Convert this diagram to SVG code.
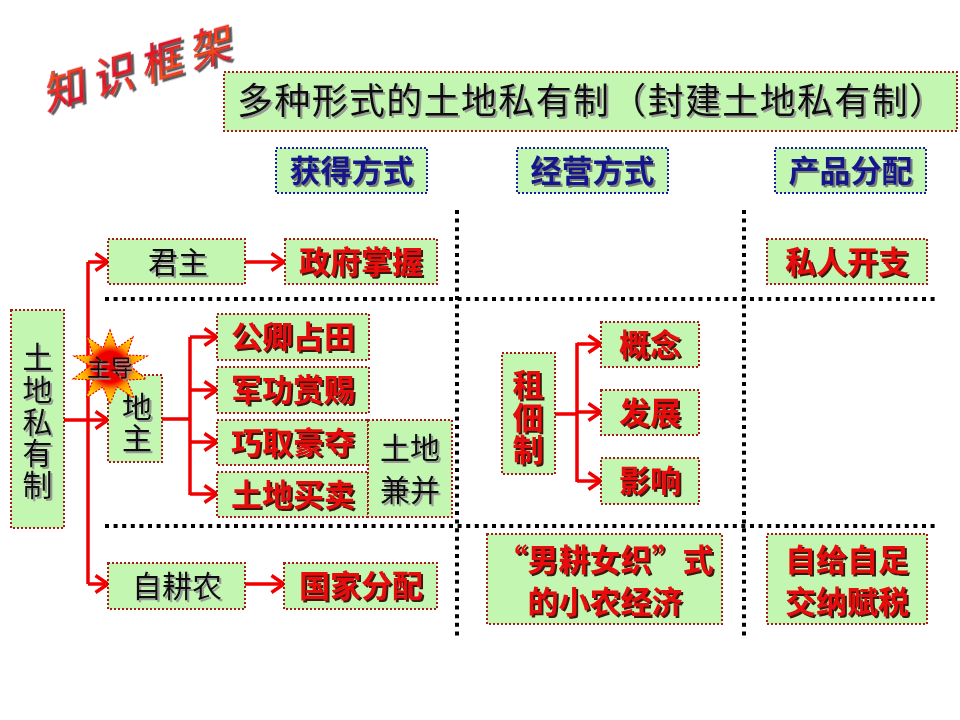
<svg xmlns="http://www.w3.org/2000/svg" width="960" height="720" viewBox="0 0 960 720">
<defs>
<style>
.box{fill:#c2f6b1;stroke:#a81818;stroke-width:2;stroke-dasharray:2 2}
.hbox{fill:#c2f6b1;stroke:#1a1aa8;stroke-width:2;stroke-dasharray:2 2}
.sep{stroke:#000;stroke-width:4;stroke-dasharray:4 4.6;fill:none}
.con{stroke:#f00000;stroke-width:3.5;fill:none}
.arr{marker-end:url(#ah)}
text{font-family:"Noto Sans CJK SC","Noto Sans",sans-serif;text-anchor:middle}
.red{fill:#e80c0c;font-weight:bold;font-size:31px;filter:url(#shR)}
.blk{fill:#111;font-size:30px;filter:url(#shK)}
.blu{fill:#14148c;font-weight:bold;font-size:31px;filter:url(#shB)}
</style>
<filter id="shR" x="-10%" y="-20%" width="130%" height="150%"><feDropShadow dx="2" dy="2" stdDeviation="0.4" flood-color="#2a0000" flood-opacity="0.9"/></filter>
<filter id="shK" x="-10%" y="-20%" width="130%" height="150%"><feDropShadow dx="2" dy="2" stdDeviation="0.6" flood-color="#909090" flood-opacity="0.9"/></filter>
<filter id="shB" x="-10%" y="-20%" width="130%" height="150%"><feDropShadow dx="2" dy="2" stdDeviation="0.5" flood-color="#707070" flood-opacity="0.9"/></filter>
<filter id="shW" x="-10%" y="-20%" width="130%" height="150%"><feDropShadow dx="3" dy="3" stdDeviation="0.6" flood-color="#404040" flood-opacity="0.85"/></filter>
<marker id="ah" markerUnits="userSpaceOnUse" viewBox="0 0 16 20" refX="14" refY="10" markerWidth="16" markerHeight="20" orient="auto">
<path d="M1.5,1.5 L14,10 L1.5,18.5" fill="none" stroke="#f00000" stroke-width="3.5"/>
</marker>
<linearGradient id="wa" x1="0" y1="0" x2="1" y2="1">
<stop offset="0" stop-color="#ff7a10"/>
<stop offset="0.45" stop-color="#e8102a"/>
<stop offset="0.7" stop-color="#ff5a10"/>
<stop offset="1" stop-color="#c00050"/>
</linearGradient>
<radialGradient id="sun" cx="0.5" cy="0.5" r="0.5">
<stop offset="0" stop-color="#e80000"/>
<stop offset="0.42" stop-color="#f00000"/>
<stop offset="0.62" stop-color="#ff9a00"/>
<stop offset="1" stop-color="#ffee00"/>
</radialGradient>
</defs>

<!-- WordArt title -->
<g id="wordart">
<text x="155" y="79" transform="rotate(-16 155 65) skewX(-14)" font-size="42" fill="url(#wa)" stroke="#c00020" stroke-width="0.6" filter="url(#shW)" textLength="194" lengthAdjust="spacing">知识框架</text>
</g>

<!-- separators -->
<g id="separators">
<line class="sep" x1="457" y1="210" x2="457" y2="636"/>
<line class="sep" x1="744" y1="210" x2="744" y2="636"/>
<line class="sep" x1="105" y1="299" x2="935" y2="299"/>
<line class="sep" x1="105" y1="526" x2="935" y2="526"/>
</g>

<!-- connectors -->
<g id="connectors">
<path class="con" d="M88,262 V584"/>
<line class="con arr" x1="88" y1="262" x2="108" y2="262"/>
<line class="con arr" x1="64" y1="420" x2="108" y2="420"/>
<line class="con arr" x1="88" y1="584" x2="108" y2="584"/>
<line class="con arr" x1="245" y1="262" x2="284" y2="262"/>
<line class="con arr" x1="245" y1="584" x2="284" y2="584"/>
<line class="con" x1="162" y1="419" x2="190" y2="419"/>
<path class="con" d="M190,337 V495"/>
<line class="con arr" x1="190" y1="337" x2="217" y2="337"/>
<line class="con arr" x1="190" y1="390" x2="217" y2="390"/>
<line class="con arr" x1="190" y1="442" x2="217" y2="442"/>
<line class="con arr" x1="190" y1="494" x2="217" y2="494"/>
<line class="con" x1="555" y1="414" x2="577" y2="414"/>
<path class="con" d="M577,343 V482"/>
<line class="con arr" x1="577" y1="344" x2="601" y2="344"/>
<line class="con arr" x1="577" y1="412" x2="601" y2="412"/>
<line class="con arr" x1="577" y1="481" x2="601" y2="481"/>
</g>

<g id="title">
<rect class="box" x="224" y="72" width="733" height="59"/>
<text x="591" y="114" font-size="36" fill="#111" filter="url(#shK)" textLength="708" lengthAdjust="spacing">多种形式的土地私有制（封建土地私有制）</text>
</g>

<g id="h1"><rect class="hbox" x="276" y="148" width="151" height="45"/><text class="blu" x="351.5" y="182">获得方式</text></g>
<g id="h2"><rect class="hbox" x="517" y="148" width="151" height="45"/><text class="blu" x="592.5" y="182">经营方式</text></g>
<g id="h3"><rect class="hbox" x="775" y="148" width="151" height="45"/><text class="blu" x="850.5" y="182">产品分配</text></g>

<g id="tudi">
<rect class="box" x="11" y="310" width="53" height="218"/>
<text class="blk"><tspan x="37.5" y="368">土</tspan><tspan x="37.5" y="401">地</tspan><tspan x="37.5" y="433">私</tspan><tspan x="37.5" y="464">有</tspan><tspan x="37.5" y="496">制</tspan></text>
</g>

<g id="junzhu"><rect class="box" x="108" y="239" width="137" height="45"/><text class="blk" x="178" y="273">君主</text></g>
<g id="zhengfu"><rect class="box" x="285" y="239" width="152" height="45"/><text class="red" x="361" y="273">政府掌握</text></g>
<g id="siren"><rect class="box" x="767" y="239" width="160" height="45"/><text class="red" x="847" y="273">私人开支</text></g>

<g id="dizhu">
<rect class="box" x="108" y="375" width="54" height="87"/>
<text class="blk"><tspan x="137" y="418">地</tspan><tspan x="137" y="449">主</tspan></text>
</g>

<g id="zhudao">
<polygon points="110,330 117,348 133,337 127,355 147,356 130,366 146,379 127,380 134,398 117,387 110,404 103,387 86,398 93,380 73,379 90,366 74,356 93,355 87,337 103,348" fill="url(#sun)" stroke="#f00000" stroke-width="1.2" stroke-dasharray="2 1.5"/>
<text x="110" y="376" font-size="23" fill="#111" filter="url(#shK)">主导</text>
</g>

<g id="gongqing"><rect class="box" x="217" y="314" width="152" height="46"/><text class="red" x="293" y="348">公卿占田</text></g>
<g id="jungong"><rect class="box" x="217" y="367" width="152" height="46"/><text class="red" x="293" y="401">军功赏赐</text></g>
<g id="qiaoqu"><rect class="box" x="217" y="420" width="151" height="45"/><text class="red" x="293" y="453.5">巧取豪夺</text></g>
<g id="maimai"><rect class="box" x="217" y="472" width="151" height="45"/><text class="red" x="293" y="505.5">土地买卖</text></g>
<g id="jianbing">
<rect class="box" x="368" y="420" width="84" height="97"/>
<text class="blk"><tspan x="410" y="459">土地</tspan><tspan x="410" y="501">兼并</tspan></text>
</g>

<g id="zudian">
<rect class="box" x="502" y="353" width="53" height="121"/>
<text class="red"><tspan x="528" y="396">租</tspan><tspan x="528" y="429">佃</tspan><tspan x="528" y="461">制</tspan></text>
</g>
<g id="gainian"><rect class="box" x="601" y="322" width="98" height="45"/><text class="red" x="650" y="355.5">概念</text></g>
<g id="fazhan"><rect class="box" x="601" y="390" width="98" height="45"/><text class="red" x="650" y="423.5">发展</text></g>
<g id="yingxiang"><rect class="box" x="601" y="458" width="98" height="46"/><text class="red" x="650" y="492">影响</text></g>

<g id="zigengnong"><rect class="box" x="108" y="563" width="137" height="46"/><text class="blk" x="177" y="597">自耕农</text></g>
<g id="guojia"><rect class="box" x="284" y="563" width="153" height="46"/><text class="red" x="361" y="597">国家分配</text></g>

<g id="xiaonong">
<rect class="box" x="487" y="534" width="235" height="90"/>
<text class="red"><tspan x="605" y="571">“男耕女织”式</tspan><tspan x="605" y="613">的小农经济</tspan></text>
</g>
<g id="zigei">
<rect class="box" x="767" y="534" width="160" height="90"/>
<text class="red"><tspan x="847" y="571">自给自足</tspan><tspan x="847" y="613">交纳赋税</tspan></text>
</g>
</svg>
